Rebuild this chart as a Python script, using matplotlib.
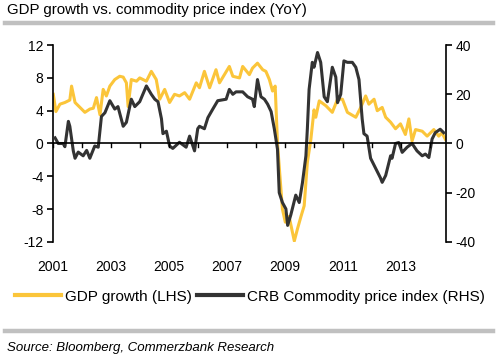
"""GDP growth vs. commodity price index chart."""
import matplotlib

matplotlib.use("Agg")
import matplotlib.pyplot as plt
from matplotlib.lines import Line2D

plt.rcParams["font.family"] = ["Liberation Sans", "DejaVu Sans"]

# values (decimal year, value)
gdp_dates = [2001.01, 2001.10, 2001.24, 2001.41, 2001.58, 2001.64, 2001.76, 2001.93, 2002.10, 2002.27,
             2002.39, 2002.50, 2002.62, 2002.73, 2002.84, 2002.96, 2003.13, 2003.30, 2003.42, 2003.53,
             2003.59, 2003.70, 2003.88, 2003.99, 2004.22, 2004.39, 2004.56, 2004.68, 2004.85, 2005.02,
             2005.19, 2005.36, 2005.54, 2005.71, 2005.94, 2006.05, 2006.22, 2006.40, 2006.62, 2006.74,
             2007.08, 2007.20, 2007.43, 2007.54, 2007.77, 2007.88, 2008.05, 2008.23, 2008.34, 2008.46,
             2008.57, 2008.66, 2008.74, 2008.91, 2009.01, 2009.14, 2009.32, 2009.43, 2009.55, 2009.66,
             2009.77, 2009.89, 2010.00, 2010.06, 2010.18, 2010.41, 2010.63, 2010.81, 2010.98, 2011.15,
             2011.44, 2011.61, 2011.78, 2011.89, 2012.07, 2012.18, 2012.35, 2012.47, 2012.64, 2012.81,
             2012.98, 2013.15, 2013.27, 2013.38, 2013.50, 2013.73, 2013.90, 2014.13, 2014.30, 2014.41,
             2014.53]
gdp_vals = [6.0, 3.9, 4.8, 5.0, 5.3, 7.0, 5.0, 4.4, 3.8, 4.2,
            4.3, 5.6, 3.5, 6.6, 5.8, 7.0, 7.8, 8.2, 8.1, 7.4,
            4.5, 7.8, 7.6, 8.0, 7.6, 8.8, 7.8, 5.4, 6.6, 5.0,
            6.0, 5.8, 6.2, 5.4, 7.4, 6.8, 8.8, 6.8, 9.0, 7.4,
            9.4, 8.2, 8.0, 9.4, 8.4, 9.2, 9.8, 9.0, 8.8, 7.8,
            6.4, 7.0, 0.0, -8.0, -9.6, -8.9, -11.9, -10.4, -8.9, -7.6,
            -2.3, 0.5, 4.1, 3.2, 5.2, 4.6, 3.8, 5.4, 5.4, 3.8,
            3.2, 4.4, 5.8, 4.8, 5.4, 4.0, 4.4, 3.2, 2.6, 1.8,
            2.4, 1.1, 3.0, 0.3, 1.7, 1.5, 0.9, 1.7, 0.9, 1.3,
            0.5]

crb_dates = [2001.07, 2001.18, 2001.35, 2001.41, 2001.53, 2001.58, 2001.70, 2001.76, 2001.87, 2002.04,
             2002.16, 2002.27, 2002.44, 2002.56, 2002.67, 2002.79, 2002.96, 2003.13, 2003.24, 2003.42,
             2003.53, 2003.70, 2003.82, 2003.99, 2004.22, 2004.39, 2004.51, 2004.62, 2004.74, 2004.79,
             2004.91, 2005.02, 2005.13, 2005.36, 2005.59, 2005.71, 2005.88, 2005.99, 2006.05, 2006.22,
             2006.34, 2006.51, 2006.68, 2006.97, 2007.08, 2007.20, 2007.31, 2007.54, 2007.71, 2007.88,
             2007.94, 2008.05, 2008.17, 2008.29, 2008.40, 2008.52, 2008.63, 2008.74, 2008.80, 2008.91,
             2009.03, 2009.09, 2009.20, 2009.37, 2009.49, 2009.60, 2009.72, 2009.77, 2009.83, 2009.94,
             2010.00, 2010.12, 2010.23, 2010.35, 2010.46, 2010.63, 2010.75, 2010.81, 2010.92, 2011.03,
             2011.15, 2011.32, 2011.44, 2011.55, 2011.66, 2011.72, 2011.83, 2011.95, 2012.12, 2012.29,
             2012.35, 2012.47, 2012.64, 2012.69, 2012.81, 2012.92, 2013.04, 2013.21, 2013.38, 2013.55,
             2013.73, 2013.84, 2013.96, 2014.07, 2014.18, 2014.35, 2014.47]
crb_vals = [2.3, 0.0, 0.0, -1.3, 9.0, 7.0, -3.0, -6.0, -3.5, -5.0,
            -2.8, -6.0, -1.0, -1.5, 11.0, 12.5, 17.4, 14.0, 15.0, 7.0,
            8.6, 18.0, 15.0, 17.0, 23.4, 20.0, 18.0, 17.0, 10.0, 4.0,
            5.0, -1.0, -2.0, 0.5, -1.5, 3.0, -3.0, 6.0, 7.0, 6.0,
            10.5, 14.0, 17.4, 18.0, 22.0, 20.0, 21.0, 21.0, 19.0, 18.0,
            15.0, 26.0, 19.0, 18.0, 16.0, 13.0, 6.0, -2.3, -20.0, -24.0,
            -26.6, -33.3, -29.0, -21.0, -24.0, -16.0, -5.0, 6.0, 22.0, 33.0,
            31.0, 37.0, 33.0, 19.0, 17.0, 31.0, 27.0, 16.6, 20.0, 33.6,
            33.0, 33.0, 31.0, 26.0, 10.0, 4.0, 3.0, -6.0, -10.0, -14.0,
            -15.8, -13.0, -5.0, -6.0, 0.0, 0.4, -3.6, -1.5, 0.0, -3.0,
            -5.0, -4.3, -5.7, 1.8, 4.4, 5.8, 4.4]

year_ticks = list(range(2001, 2015))
year_labels = [2001, 2003, 2005, 2007, 2009, 2011, 2013]
left_ticks = [-12, -8, -4, 0, 4, 8, 12]
right_ticks = [-40, -20, 0, 20, 40]

yellow = "#FBC53A"
dark = "#333333"

fig = plt.figure(figsize=(5.0, 3.61), dpi=100)
ax = fig.add_axes([0.106, 0.330, 0.786, 0.545])
ax2 = ax.twinx()

ax.plot(gdp_dates, gdp_vals, color=yellow, lw=2.2, zorder=2)
ax2.plot(crb_dates, crb_vals, color=dark, lw=2.2, zorder=3)
ax2.axhline(0, color="black", lw=1.2, zorder=4)

ax.set_xlim(2001, 2014.55)
ax.set_ylim(-12, 12)
ax2.set_ylim(-40, 40)

ax.set_yticks(left_ticks)
ax.set_yticklabels([str(v) for v in left_ticks])
ax2.set_yticks(right_ticks)
ax2.set_yticklabels([str(v) for v in right_ticks])

for a in (ax, ax2):
    a.spines["top"].set_visible(False)
    a.spines["bottom"].set_visible(False)
    a.tick_params(axis="y", direction="out", length=4, width=1.2, labelsize=10, pad=3)
ax.spines["right"].set_visible(False)
ax2.spines["left"].set_visible(False)
ax.spines["left"].set_linewidth(1.2)
ax2.spines["right"].set_linewidth(1.2)

# year ticks sit on the zero line
ax.set_xticks(year_ticks)
ax.tick_params(axis="x", length=0, labelbottom=False)
ax2.tick_params(axis="x", length=0)
for yr in year_ticks:
    ax2.plot([yr, yr], [0, -1.3], color="black", lw=1.0, zorder=4, clip_on=False)

for yr in year_labels:
    ax.text(yr, -0.13, str(yr), transform=ax.get_xaxis_transform(), ha="center", va="center", fontsize=10)

fig.text(0.014, 0.972, "GDP growth vs. commodity price index (YoY)", fontsize=10.8, va="center", ha="left")
fig.add_artist(Line2D([0.01, 0.986], [0.937, 0.937], color="#C0C0C0", lw=3.2))
fig.add_artist(Line2D([0.01, 0.986], [0.083, 0.083], color="#C0C0C0", lw=3.2))
fig.text(0.014, 0.036, "Source: Bloomberg, Commerzbank Research", fontsize=9.5, style="italic", va="center")

handles = [Line2D([], [], color=yellow, lw=3), Line2D([], [], color=dark, lw=3)]
fig.legend(handles, ["GDP growth (LHS)", "CRB Commodity price index (RHS)"], loc="center",
           bbox_to_anchor=(0.5, 0.178), ncol=2, frameon=False, fontsize=11, handlelength=3.0,
           handletextpad=0.3, columnspacing=0.3)

fig.savefig("out.png", dpi=100)
